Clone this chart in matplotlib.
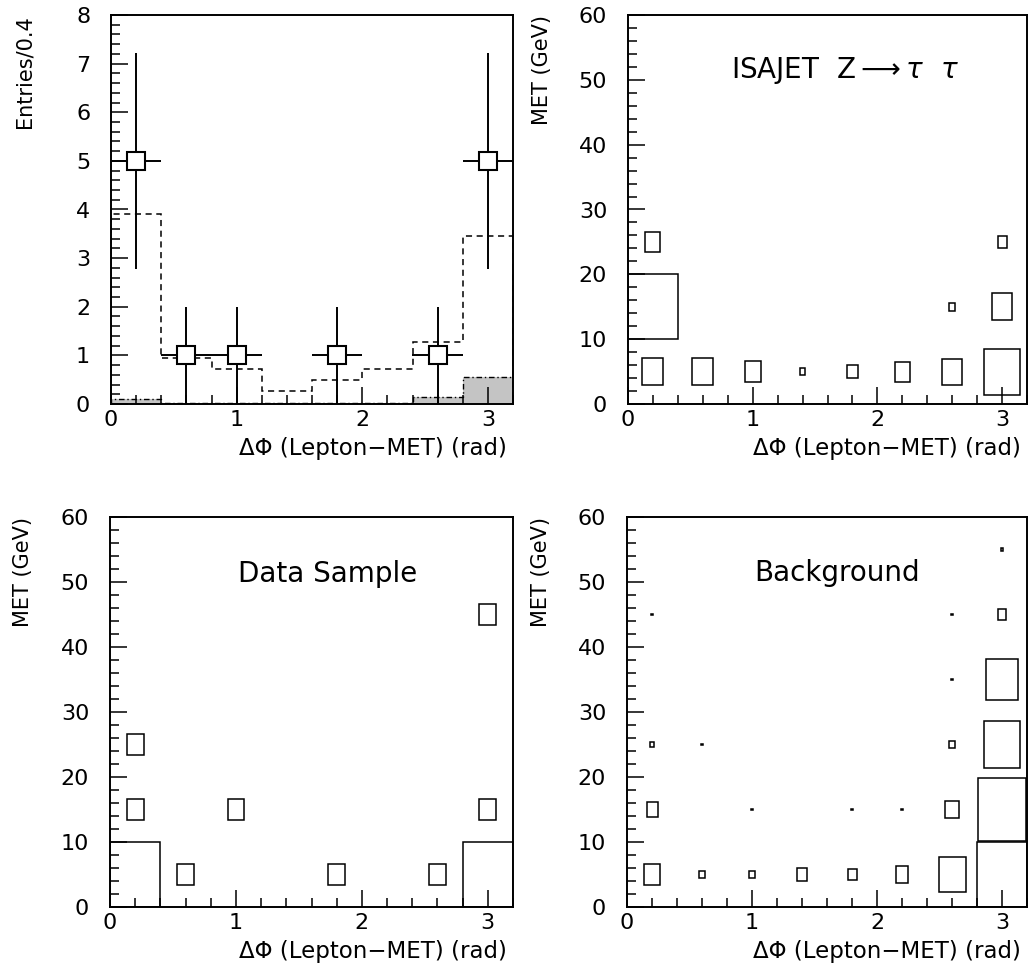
import numpy as np
import matplotlib
matplotlib.use("Agg")
import matplotlib.pyplot as plt
from matplotlib.patches import Rectangle
from matplotlib.ticker import MultipleLocator

# ---------------- data ----------------
# 1D distribution of delta-phi, bins of 0.4 rad
phi_edges = [0.0, 0.4, 0.8, 1.2, 1.6, 2.0, 2.4, 2.8, 3.2]
data_counts = [5, 1, 1, 0, 1, 0, 1, 5]
data_err_lo = [2.78, 0.0, 0.0, 0.0, 0.0, 0.0, 0.0, 2.78]   # lower edge of error bar
data_err_hi = [7.22, 2.0, 2.0, 0.0, 2.0, 0.0, 2.0, 7.22]   # upper edge of error bar
mc_expect = [3.90, 0.94, 0.72, 0.26, 0.50, 0.72, 1.27, 3.45]
bkg_expect = [0.10, 0.02, 0.02, 0.02, 0.02, 0.03, 0.14, 0.55]

# 2D (delta-phi, MET) cell contents; box side is proportional to content
isajet_phi = [0.2, 0.6, 1.0, 1.4, 1.8, 2.2, 2.6, 3.0, 0.2, 2.6, 3.0, 0.2, 3.0]
isajet_met = [5, 5, 5, 5, 5, 5, 5, 5, 15, 15, 15, 25, 25]
isajet_w = [0.42, 0.42, 0.32, 0.11, 0.21, 0.31, 0.40, 0.71, 1.00, 0.12, 0.41, 0.30, 0.18]

sample_phi = [0.2, 0.2, 0.2, 0.6, 1.0, 1.8, 2.6, 3.0, 3.0, 3.0]
sample_met = [5, 15, 25, 5, 15, 5, 5, 5, 15, 45]
sample_n = [3, 1, 1, 1, 1, 1, 1, 3, 1, 1]

bkg_phi = [0.2, 0.6, 1.0, 1.4, 1.8, 2.2, 2.6, 3.0,
           0.2, 1.0, 1.8, 2.2, 2.6, 3.0,
           0.2, 0.6, 2.6, 3.0,
           2.6, 3.0,
           0.2, 2.6, 3.0,
           3.0]
bkg_met = [5, 5, 5, 5, 5, 5, 5, 5,
           15, 15, 15, 15, 15, 15,
           25, 25, 25, 25,
           35, 35,
           45, 45, 45,
           55]
bkg_w = [0.32, 0.11, 0.11, 0.19, 0.18, 0.25, 0.54, 1.00,
         0.22, 0.025, 0.025, 0.025, 0.27, 0.97,
         0.08, 0.03, 0.11, 0.72,
         0.03, 0.63,
         0.03, 0.025, 0.17,
         0.05]

xlabel_text = "ΔΦ (Lepton−MET) (rad)"

# ---------------- style ----------------
plt.rcParams["font.family"] = ["DejaVu Sans"]
plt.rcParams["mathtext.fontset"] = "dejavusans"

fig = plt.figure(figsize=(10.30, 9.76), dpi=100)
W, H = 1030.0, 976.0


def make_axes(left, right, top, bottom):
    return fig.add_axes([left / W, 1 - bottom / H, (right - left) / W, (bottom - top) / H])


ax_h = make_axes(111, 513, 15, 404)
ax_i = make_axes(628, 1027, 15, 404)
ax_d = make_axes(110, 513, 517, 907)
ax_b = make_axes(627, 1027, 517, 907)

DPHI, DMET = 0.4, 10.0


def style_axes(ax, ymax, ymajor, yminor, ylabel):
    ax.set_xlim(0, 3.2)
    ax.set_ylim(0, ymax)
    ax.xaxis.set_major_locator(MultipleLocator(1))
    ax.xaxis.set_minor_locator(MultipleLocator(0.2))
    ax.yaxis.set_major_locator(MultipleLocator(ymajor))
    ax.yaxis.set_minor_locator(MultipleLocator(yminor))
    ax.tick_params(which="both", direction="in", top=False, right=False,
                   width=1.1, color="black", labelsize=16)
    ax.tick_params(which="major", length=12)
    ax.tick_params(which="minor", length=6.5)
    ax.tick_params(axis="y", which="both", pad=15)
    ax.tick_params(axis="x", which="both", pad=4)
    for s in ax.spines.values():
        s.set_linewidth(1.4)
    ax.set_xlabel(xlabel_text, fontsize=16.5, ha="right")
    ax.xaxis.set_label_coords(0.985, -0.085)
    ax.set_ylabel(ylabel, fontsize=15, ha="right")
    ax.yaxis.set_label_coords(-0.19, 1.0)


# ---------------- histogram panel ----------------
style_axes(ax_h, 8, 1, 0.2, "Entries/0.4")
ax_h.stairs(bkg_expect, phi_edges, fill=True, facecolor="#c4c4c4",
            edgecolor="none", hatch="....", zorder=1)
ax_h.stairs(bkg_expect, phi_edges, color="black", lw=1.0,
            linestyle=(0, (4, 2, 1, 2)), zorder=2)
ax_h.stairs(mc_expect, phi_edges, color="black", lw=1.1,
            linestyle=(0, (4, 3)), zorder=3)

centers = [(a + b) / 2 for a, b in zip(phi_edges[:-1], phi_edges[1:])]
for c, n, lo, hi in zip(centers, data_counts, data_err_lo, data_err_hi):
    if n == 0:
        continue
    ax_h.errorbar([c], [n], xerr=[[DPHI / 2], [DPHI / 2]],
                  yerr=[[n - lo], [hi - n]], fmt="s", ms=12.5,
                  mfc="white", mec="black", mew=1.5, ecolor="black",
                  elinewidth=1.4, capsize=0, zorder=5, clip_on=True)


# ---------------- box panels ----------------
def box_panel(ax, phis, mets, weights, title, tx, ty):
    style_axes(ax, 60, 10, 2, "MET (GeV)")
    wmax = max(weights)
    for p, m, w in zip(phis, mets, weights):
        f = w / wmax
        ax.add_patch(Rectangle((p - f * DPHI / 2, m - f * DMET / 2),
                               f * DPHI, f * DMET, fill=False,
                               edgecolor="black", lw=1.1, zorder=3))
    ax.text(tx, ty, title, fontsize=20, ha="left", va="center")


box_panel(ax_i, isajet_phi, isajet_met, isajet_w,
          r"ISAJET  Z$\longrightarrow\tau\ \ \tau$", 0.83, 51.5)
box_panel(ax_d, sample_phi, sample_met, sample_n, "Data Sample", 1.02, 51.3)
box_panel(ax_b, bkg_phi, bkg_met, bkg_w, "Background", 1.02, 51.4)

fig.savefig("out.png", dpi=100)
